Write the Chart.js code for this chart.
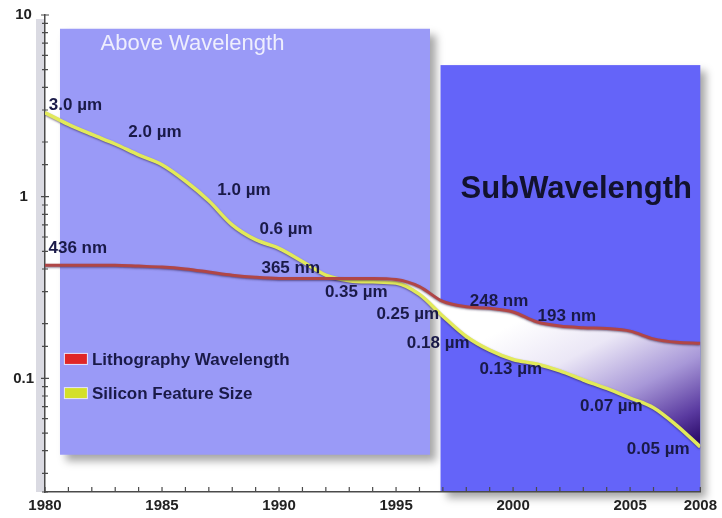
<!DOCTYPE html>
<html>
<head>
<meta charset="utf-8">
<script src="https://cdn.jsdelivr.net/npm/chart.js@4.4.1/dist/chart.umd.min.js"></script>
<style>
  html, body { margin: 0; padding: 0; background: #fff; }
  #wrap { width: 722px; height: 518px; }
</style>
</head>
<body>
<div id="wrap"><canvas id="chart" width="722" height="518"></canvas></div>
<script>
// values (feature size / wavelength in µm, log scale)
const years = [1980, 1981, 1982, 1983, 1984, 1985, 1986, 1987, 1988, 1989,
               1990, 1991, 1992, 1993, 1994, 1995, 1996, 1997, 1998, 1999,
               2000, 2001, 2002, 2003, 2004, 2005, 2006, 2007, 2008];
const lithoWavelength = [0.42, 0.42, 0.42, 0.42, 0.415, 0.41, 0.40, 0.385, 0.37, 0.36,
                         0.355, 0.355, 0.355, 0.355, 0.355, 0.35, 0.32, 0.265, 0.248, 0.243,
                         0.232, 0.205, 0.194, 0.19, 0.188, 0.182, 0.165, 0.158, 0.156];
const featureSize = [2.9, 2.5, 2.2, 1.95, 1.7, 1.5, 1.22, 0.95, 0.7, 0.58,
                     0.52, 0.44, 0.37, 0.345, 0.34, 0.335, 0.29, 0.22, 0.17, 0.143,
                     0.127, 0.12, 0.11, 0.098, 0.088, 0.078, 0.069, 0.055, 0.042];
const xTickLabels = [1980, 1985, 1990, 1995, 2000, 2005, 2008];
const yTickLabels = [10, 1, 0.1];
const seriesNames = ['Lithography Wavelength', 'Silicon Feature Size'];

// callout text, anchored in data units (year, µm)
const callouts = [
  { text: '3.0 µm',  x: 1981.3, y: 3.2 },
  { text: '2.0 µm',  x: 1984.7, y: 2.25 },
  { text: '1.0 µm',  x: 1988.5, y: 1.09 },
  { text: '0.6 µm',  x: 1990.3, y: 0.66 },
  { text: '436 nm',  x: 1981.4, y: 0.518 },
  { text: '365 nm',  x: 1990.5, y: 0.402 },
  { text: '0.35 µm', x: 1993.3, y: 0.297 },
  { text: '0.25 µm', x: 1995.5, y: 0.225 },
  { text: '0.18 µm', x: 1996.8, y: 0.156 },
  { text: '248 nm',  x: 1999.4, y: 0.265 },
  { text: '193 nm',  x: 2002.3, y: 0.219 },
  { text: '0.13 µm', x: 1999.9, y: 0.112 },
  { text: '0.07 µm', x: 2004.2, y: 0.070 },
  { text: '0.05 µm', x: 2006.2, y: 0.0408 },
];

const COLORS = {
  above:  '#9a9af7',
  sub:    '#6464f9',
  litho:  '#b04646',
  litho2: '#e02626',
  si:     '#e2ea5a',
  si2:    '#d4e02a',
  ink:    '#1a1a48',
  axis:   '#4a4a4a',
};

const FONT = 'Arial, "Liberation Sans", sans-serif';

function toPoints(ys) {
  return years.map((yr, i) => ({ x: yr, y: ys[i] }));
}

function isDecade(v) {
  const l = Math.log10(v);
  return Math.abs(l - Math.round(l)) < 1e-6;
}

// ── Background panels + decorations ───────────────────────────────────────

const decor = {
  id: 'decor',
  beforeDraw(chart) {
    const { ctx, chartArea, scales } = chart;
    const x = scales.x, y = scales.y;

    ctx.save();
    // grey strip behind y axis
    ctx.fillStyle = '#dadae2';
    ctx.fillRect(chartArea.left - 9, chartArea.top + 4, 9, chartArea.bottom - chartArea.top - 4);

    // "Above Wavelength" panel
    ctx.shadowColor = 'rgba(0,0,0,0.35)';
    ctx.shadowBlur = 8;
    ctx.shadowOffsetX = 6;
    ctx.shadowOffsetY = 6;
    let l = x.getPixelForValue(1980.64), r = x.getPixelForValue(1996.45);
    let t = y.getPixelForValue(8.4), b = y.getPixelForValue(0.038);
    ctx.fillStyle = COLORS.above;
    ctx.fillRect(l, t, r - l, b - t);

    // "SubWavelength" panel
    l = x.getPixelForValue(1996.9); r = x.getPixelForValue(2008);
    t = y.getPixelForValue(5.3); b = chartArea.bottom;
    ctx.fillStyle = COLORS.sub;
    ctx.fillRect(l, t, r - l, b - t);
    ctx.restore();

    ctx.save();
    ctx.fillStyle = '#eeeefd';
    ctx.font = '22px ' + FONT;
    ctx.textAlign = 'center';
    ctx.textBaseline = 'middle';
    ctx.fillText('Above Wavelength', x.getPixelForValue(1986.3), y.getPixelForValue(6.9));

    ctx.fillStyle = '#12122e';
    ctx.font = 'bold 31px ' + FONT;
    ctx.fillText('SubWavelength', x.getPixelForValue(2002.7), y.getPixelForValue(1.1));
    ctx.restore();
  },
  beforeDatasetDraw(chart) {
    const ctx = chart.ctx;
    ctx.save();
    ctx.shadowColor = 'rgba(40,20,60,0.55)';
    ctx.shadowBlur = 2;
    ctx.shadowOffsetY = 1;
  },
  afterDatasetDraw(chart) {
    chart.ctx.restore();
  },
  afterDraw(chart) {
    const { ctx, chartArea, scales } = chart;
    const x = scales.x, y = scales.y;
    ctx.save();

    // tick marks: up from the x axis, across the y axis
    ctx.strokeStyle = COLORS.axis;
    ctx.lineWidth = 1.2;
    ctx.beginPath();
    x.ticks.forEach(tk => {
      const px = x.getPixelForValue(tk.value);
      ctx.moveTo(px, chartArea.bottom);
      ctx.lineTo(px, chartArea.bottom - 5);
    });
    y.ticks.forEach(tk => {
      const py = y.getPixelForValue(tk.value);
      const w = isDecade(tk.value) ? 4 : 3;
      ctx.moveTo(chartArea.left - w, py);
      ctx.lineTo(chartArea.left + w, py);
    });
    ctx.stroke();

    // callouts
    ctx.fillStyle = COLORS.ink;
    ctx.font = 'bold 17px ' + FONT;
    ctx.textAlign = 'center';
    ctx.textBaseline = 'middle';
    callouts.forEach(c => {
      ctx.fillText(c.text, x.getPixelForValue(c.x), y.getPixelForValue(c.y));
    });

    // legend
    const lx = x.getPixelForValue(1980.85);
    const rows = [y.getPixelForValue(0.128), y.getPixelForValue(0.083)];
    const sw = [COLORS.litho2, COLORS.si2];
    ctx.font = 'bold 17px ' + FONT;
    ctx.textAlign = 'left';
    seriesNames.forEach((name, i) => {
      ctx.fillStyle = 'rgba(255,255,255,0.75)';
      ctx.fillRect(lx - 1, rows[i] - 6, 24, 12);
      ctx.fillStyle = sw[i];
      ctx.fillRect(lx, rows[i] - 5, 22, 10);
      ctx.fillStyle = COLORS.ink;
      ctx.fillText(name, lx + 27, rows[i] + 1);
    });
    ctx.restore();
  }
};

// ── Chart ─────────────────────────────────────────────────────────────────

const ctx = document.getElementById('chart');

new Chart(ctx, {
  type: 'line',
  data: {
    datasets: [
      {
        label: seriesNames[0],
        data: toPoints(lithoWavelength),
        borderColor: COLORS.litho,
        borderWidth: 3,
        pointRadius: 0,
        cubicInterpolationMode: 'monotone',
        fill: false,
      },
      {
        label: seriesNames[1],
        data: toPoints(featureSize),
        borderColor: COLORS.si,
        borderWidth: 3.5,
        pointRadius: 0,
        cubicInterpolationMode: 'monotone',
        fill: { target: 0, above: 'rgba(0,0,0,0)' },
        backgroundColor: (c) => {
          const chart = c.chart;
          const { chartArea, scales } = chart;
          if (!chartArea || !scales.x) return 'rgba(0,0,0,0)';
          const g = chart.ctx.createLinearGradient(
            scales.x.getPixelForValue(2000), scales.y.getPixelForValue(0.2),
            scales.x.getPixelForValue(2003.7), chartArea.bottom);
          g.addColorStop(0, '#ffffff');
          g.addColorStop(0.3, '#ebe7f6');
          g.addColorStop(0.6, '#a898d8');
          g.addColorStop(0.85, '#5a3aa0');
          g.addColorStop(1, '#2a0a68');
          return g;
        },
      },
    ]
  },
  options: {
    responsive: false,
    animation: false,
    devicePixelRatio: 1,
    layout: { padding: { top: 15, right: 18, left: 0, bottom: 0 } },
    plugins: {
      legend: { display: false },
      tooltip: { enabled: false },
    },
    scales: {
      x: {
        type: 'linear',
        min: 1980, max: 2008,
        afterFit: s => { s.height = 26; },
        grid: { drawOnChartArea: false, drawTicks: false },
        border: { color: COLORS.axis, width: 1.5 },
        ticks: {
          stepSize: 1,
          autoSkip: false,
          maxRotation: 0,
          padding: 5,
          color: '#222',
          font: { family: FONT, size: 15, weight: 'bold' },
          callback: v => xTickLabels.includes(v) ? String(v) : '',
        }
      },
      y: {
        type: 'logarithmic',
        min: 0.0237, max: 10,
        afterFit: s => { s.width = 45; s.paddingTop = 0; s.paddingBottom = 0; },
        grid: { drawOnChartArea: false, drawTicks: false },
        border: { color: COLORS.axis, width: 1.5 },
        ticks: {
          autoSkip: false,
          padding: 11,
          crossAlign: 'center',
          color: '#222',
          font: { family: FONT, size: 15, weight: 'bold' },
          callback: v => (isDecade(v) && yTickLabels.some(t => Math.abs(t - v) < 1e-9)) ? String(v) : '',
        }
      }
    }
  },
  plugins: [decor]
});
</script>
</body>
</html>
